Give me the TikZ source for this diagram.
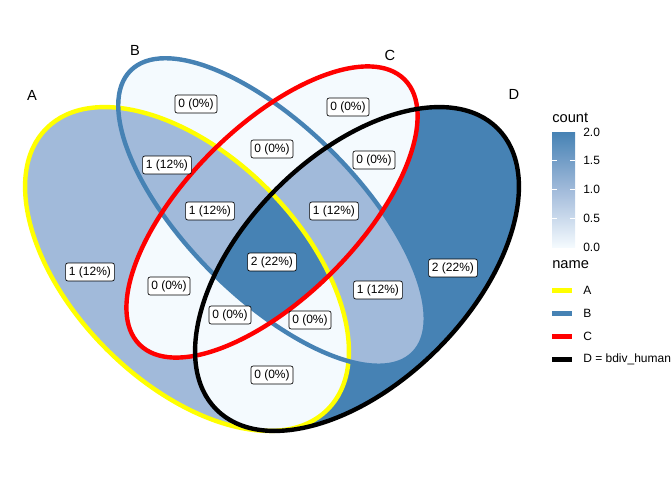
\documentclass[tikz,border=0pt]{standalone}
\usepackage{fontspec}
\setmainfont{Liberation Sans}

\definecolor{cnt0}{RGB}{244,250,254}
\definecolor{cnt1}{RGB}{161,186,218}
\definecolor{cnt2}{RGB}{70,130,180}
\definecolor{setyellow}{RGB}{255,255,0}
\definecolor{setblue}{RGB}{70,130,180}
\definecolor{setred}{RGB}{255,0,0}

% the four ellipses
\newcommand{\ellA}{{[shift={(187,211)},rotate=135] (0,0) ellipse [x radius=198.8, y radius=113.6]}}
\newcommand{\ellB}{{[shift={(272,268)},rotate=135] (0,0) ellipse [x radius=200, y radius=85.2]}}
\newcommand{\ellC}{{[shift={(272,268)},rotate=45] (0,0) ellipse [x radius=187.4, y radius=85.2]}}
\newcommand{\ellD}{{[shift={(357,211)},rotate=45] (0,0) ellipse [x radius=198.8, y radius=113.6]}}

\tikzset{
  setline/.style={line width=3.3pt},
  regionlabel/.style={draw, fill=white, rounded corners=1.5pt, inner sep=2.5pt, line width=0.5pt, font=\fontsize{9}{10}\selectfont},
  setname/.style={font=\fontsize{11}{13}\selectfont},
  legtitle/.style={anchor=west, inner sep=0pt, font=\fontsize{11}{13}\selectfont},
  legtext/.style={anchor=west, inner sep=0pt, font=\fontsize{9}{10}\selectfont},
  legkey/.style={line width=3.75pt},
}

\begin{document}
\begin{tikzpicture}[x=0.75pt, y=0.75pt]
			\useasboundingbox (0,0) rectangle (672,480);

			% fills, painted over one another
			\fill [cnt0] \ellA; \fill [cnt0] \ellB; \fill [cnt0] \ellC; \fill [cnt0] \ellD;
			\fill [cnt1] \ellA;
			\fill [cnt2] \ellD;
			\begin{scope} \clip \ellA; \fill [cnt0] \ellD; \end{scope}
			\begin{scope} \clip \ellC; \fill [cnt0] \ellD; \end{scope}
			\begin{scope} \clip \ellB; \fill [cnt1] \ellD; \end{scope}
			\begin{scope} \clip \ellA; \fill [cnt0] \ellC; \end{scope}
			\begin{scope} \clip \ellA; \clip \ellB; \fill [cnt1] \ellC; \end{scope}
			\begin{scope} \clip \ellA; \clip \ellB; \fill [cnt0] \ellD; \end{scope}
			\begin{scope} \clip \ellA; \clip \ellB; \clip \ellC; \fill [cnt2] \ellD; \end{scope}

			% outlines
			\draw [setline, setyellow] \ellA;
			\draw [setline, setblue] \ellB;
			\draw [setline, setred] \ellC;
			\draw [setline, black] \ellD;

			\node [setname] (nameA) at (32,385) {A};
			\node [setname] (nameB) at (135,430) {B};
			\node [setname] (nameC) at (390,425) {C};
			\node [setname] (nameD) at (514,386) {D};

			\node [regionlabel] (rB) at (196,376) {0 (0\%)};
			\node [regionlabel] (rC) at (348,373) {0 (0\%)};
			\node [regionlabel] (rBC) at (272,331) {0 (0\%)};
			\node [regionlabel] (rCD) at (374,320) {0 (0\%)};
			\node [regionlabel] (rAB) at (167,315) {1 (12\%)};
			\node [regionlabel] (rABC) at (210,269) {1 (12\%)};
			\node [regionlabel] (rBCD) at (334,269) {1 (12\%)};
			\node [regionlabel] (rABCD) at (272,218) {2 (22\%)};
			\node [regionlabel] (rA) at (90,208) {1 (12\%)};
			\node [regionlabel] (rAC) at (169,194) {0 (0\%)};
			\node [regionlabel] (rBD) at (378,190) {1 (12\%)};
			\node [regionlabel] (rD) at (453,212) {2 (22\%)};
			\node [regionlabel] (rACD) at (230,165) {0 (0\%)};
			\node [regionlabel] (rABD) at (310,160) {0 (0\%)};
			\node [regionlabel] (rAD) at (272,105) {0 (0\%)};

			% legend: count
			\node [legtitle] (counttitle) at (552,362) {count};
			\shade [bottom color=cnt0, top color=cnt2, middle color=cnt1] (552,233) rectangle (575,348);
			\foreach \y in {261.75,290.5,319.25} {
				\draw [white, line width=0.6pt] (552,\y) -- (556.6,\y);
				\draw [white, line width=0.6pt] (570.4,\y) -- (575,\y);
			}
			\node [legtext] (tick0) at (583,233) {0.0};
			\node [legtext] (tick1) at (583,261.75) {0.5};
			\node [legtext] (tick2) at (583,290.5) {1.0};
			\node [legtext] (tick3) at (583,319.25) {1.5};
			\node [legtext] (tick4) at (583,348) {2.0};

			% legend: name
			\node [legtitle] (nametitle) at (552,215) {name};
			\draw [legkey, setyellow] (552,189.3) -- (572,189.3);
			\draw [legkey, setblue] (552,166.7) -- (572,166.7);
			\draw [legkey, setred] (552,143.3) -- (572,143.3);
			\draw [legkey, black] (552,120.7) -- (572,120.7);
			\node [legtext] (keyA) at (583,189.3) {A};
			\node [legtext] (keyB) at (583,166.7) {B};
			\node [legtext] (keyC) at (583,143.3) {C};
			\node [legtext] (keyD) at (583,120.7) {D = bdiv\_human};
\end{tikzpicture}
\end{document}
